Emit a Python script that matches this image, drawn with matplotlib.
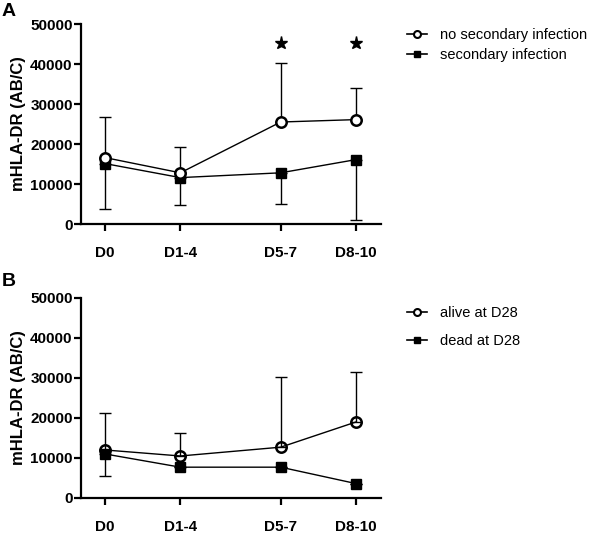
import numpy as np
import matplotlib
matplotlib.use('Agg')
import matplotlib.pyplot as plt
from matplotlib.lines import Line2D

plt.rcParams['font.family'] = ['Liberation Sans', 'DejaVu Sans']

# 데이터
days = ['D0', 'D1-4', 'D5-7', 'D8-10']
day_pos = [0, 3, 7, 10]

# 패널 A
no_sec = [16600, 12800, 25500, 26100]
no_sec_up = [26700, 19200, 40300, 34000]
sec = [15100, 11600, 12800, 16100]
sec_low = [3800, 4800, 5100, 1000]
star_days = ['D5-7', 'D8-10']
star_y = 45200

# 패널 B
alive = [12000, 10500, 12700, 19000]
alive_up = [21200, 16200, 30300, 31400]
dead = [11000, 7700, 7700, 3600]
dead_low = [5400, 7700, 7700, 3600]

yticks = [0, 10000, 20000, 30000, 40000, 50000]


def style_axis(ax):
    ax.set_xlim(-0.96, 11.0)
    ax.set_ylim(0, 50000)
    for s in ['top', 'right']:
        ax.spines[s].set_visible(False)
    for s in ['left', 'bottom']:
        ax.spines[s].set_linewidth(1.6)
    ax.set_xticks(day_pos)
    ax.set_xticklabels(days, fontsize=11, fontweight='bold')
    ax.set_yticks(yticks)
    ax.set_yticklabels([str(v) for v in yticks], fontsize=11, fontweight='bold')
    ax.tick_params(axis='both', direction='out', width=1.6, length=5)
    ax.tick_params(axis='x', pad=11)
    ax.tick_params(axis='y', pad=1)
    ax.set_ylabel('mHLA-DR (AB/C)', fontsize=12, fontweight='bold', labelpad=3)


def draw_panel(ax, top, top_err, bot, bot_err, top_fill):
    top = np.array(top)
    bot = np.array(bot)
    up = np.array(top_err) - top
    lo = bot - np.array(bot_err)
    ax.errorbar(day_pos, top, yerr=[np.zeros_like(up), up], fmt='none',
                ecolor='black', elinewidth=1, capsize=4, capthick=1, zorder=2)
    ax.errorbar(day_pos, bot, yerr=[lo, np.zeros_like(lo)], fmt='none',
                ecolor='black', elinewidth=1, capsize=4, capthick=1, zorder=2)
    ax.plot(day_pos, bot, '-s', color='black', lw=1, markersize=7, zorder=3)
    ax.plot(day_pos, top, '-o', color='black', lw=1, markersize=7.5,
            markeredgewidth=1.8, markerfacecolor=top_fill, zorder=4)


fig = plt.figure(figsize=(5.98, 5.35), dpi=100)
axA = fig.add_axes([0.1355, 0.5813, 0.5017, 0.3738])
axB = fig.add_axes([0.1355, 0.0692, 0.5017, 0.3738])

draw_panel(axA, no_sec, no_sec_up, sec, sec_low, 'white')
style_axis(axA)
for d in star_days:
    axA.plot(day_pos[days.index(d)], star_y, marker='*', color='black',
             markersize=9.5, linestyle='none')

draw_panel(axB, alive, alive_up, dead, dead_low, 'none')
style_axis(axB)

# 범례
def legend_handles(lbl_circle, lbl_square):
    h1 = Line2D([], [], color='black', lw=1.2, marker='o', markersize=5,
                markeredgewidth=1.5, markerfacecolor='white')
    h2 = Line2D([], [], color='black', lw=1.2, marker='s', markersize=5)
    return [h1, h2], [lbl_circle, lbl_square]

hA, lA = legend_handles('no secondary infection', 'secondary infection')
fig.legend(hA, lA, loc='upper left', bbox_to_anchor=(0.658, 0.972),
           frameon=False, fontsize=10.5, handlelength=1.4, handletextpad=0.9,
           labelspacing=0.4)
hB, lB = legend_handles('alive at D28', 'dead at D28')
fig.legend(hB, lB, loc='upper left', bbox_to_anchor=(0.658, 0.452),
           frameon=False, fontsize=10.5, handlelength=1.4, handletextpad=0.9,
           labelspacing=0.95)

fig.text(0.003, 0.995, 'A', fontsize=14, fontweight='bold', va='top')
fig.text(0.003, 0.49, 'B', fontsize=14, fontweight='bold', va='top')

fig.savefig('out.png', dpi=100)
